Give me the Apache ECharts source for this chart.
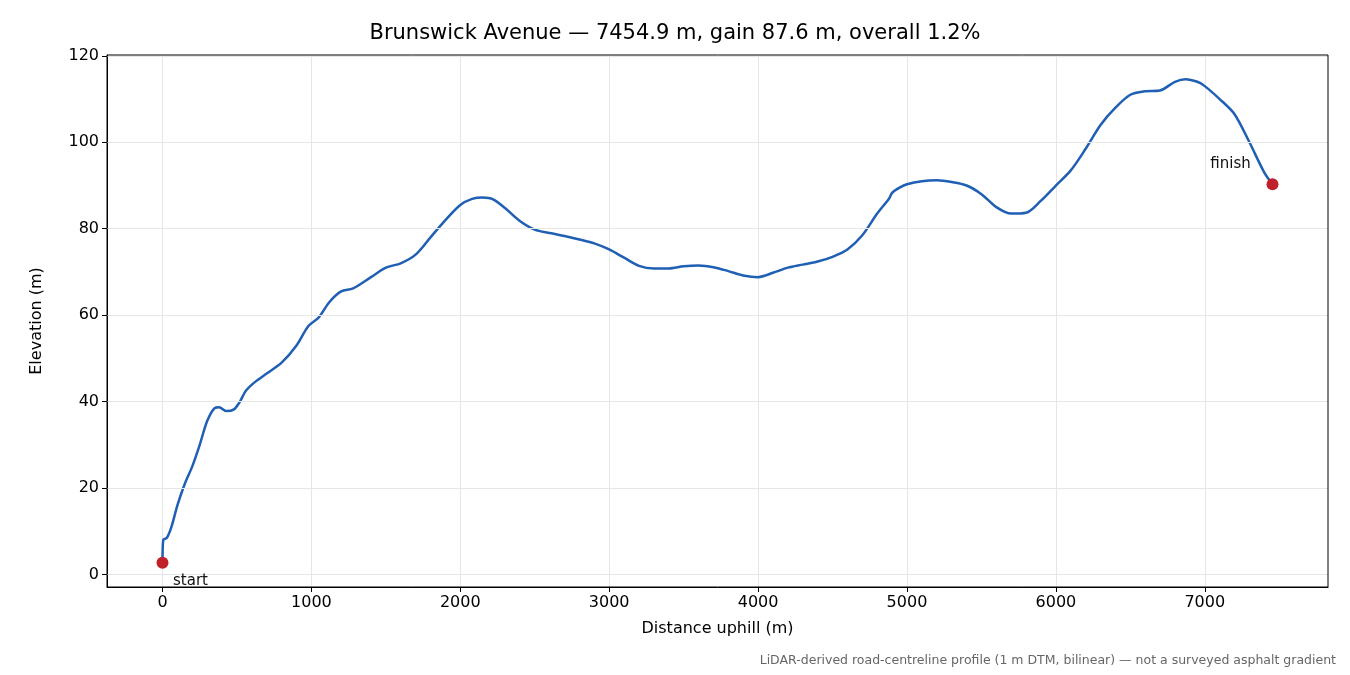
<!DOCTYPE html><html><head><meta charset="utf-8"><script src="https://cdn.jsdelivr.net/npm/echarts@6/dist/echarts.min.js"></script></head><body style="margin:0"><div id="c" style="width:1350px;height:675px"></div><script>
const dist=[0,5,30,60,100,150,200,250,300,350,380,430,480,520,560,620,700,800,900,980,1050,1120,1200,1280,1400,1500,1600,1700,1800,1900,2000,2080,2150,2220,2300,2400,2500,2600,2700,2800,2900,3000,3100,3200,3300,3400,3500,3600,3700,3800,3900,4000,4100,4200,4300,4400,4500,4600,4700,4800,4880,4900,4950,5000,5100,5200,5300,5400,5500,5600,5700,5800,5900,6000,6100,6200,6300,6400,6500,6600,6700,6800,6870,6950,7000,7100,7200,7300,7400,7454.9];
const elev=[2.7,8,8.5,11,16,21,25,30,35.5,38.5,38.7,37.8,38.2,40,42.5,44.5,46.5,49,53,57.5,59.5,63,65.5,66.2,68.8,71,72,74,78,82,85.5,86.9,87.2,86.8,84.8,81.8,79.8,79,78.3,77.5,76.6,75.2,73.3,71.4,70.8,70.8,71.3,71.5,71.1,70.2,69.2,68.8,69.8,71,71.7,72.4,73.5,75.2,78.5,83.5,87,88.3,89.5,90.3,91,91.2,90.8,90,88,85,83.5,83.7,86.5,90,93.5,98.5,104,108,111,111.8,112,114,114.6,114,113,110,106.5,100,93,90.3];
const xTicks=[0,1000,2000,3000,4000,5000,6000,7000];
const yTicks=[0,20,40,60,80,100,120];
const ends=[{d:0,e:2.7,label:'start'},{d:7454.9,e:90.3,label:'finish'}];
const ch=echarts.init(document.getElementById('c'));
const ax={color:'#000',fontSize:16,fontFamily:'DejaVu Sans'};
ch.setOption({
 animation:false,
 title:{text:'Brunswick Avenue — 7454.9 m, gain 87.6 m, overall 1.2%',left:'center',top:18,textStyle:{fontFamily:'DejaVu Sans',fontWeight:'normal',fontSize:21,color:'#000'}},
 graphic:[{type:'text',right:14,bottom:8,style:{text:'LiDAR-derived road-centreline profile (1 m DTM, bilinear) — not a surveyed asphalt gradient',fill:'#666',font:'12.5px DejaVu Sans'}}],
 grid:{left:107,right:22,top:55,bottom:88,show:true,borderColor:'#000',borderWidth:1,backgroundColor:'transparent',z:10},
 xAxis:{type:'value',min:-372.7,max:7827.6,name:'Distance uphill (m)',nameLocation:'middle',nameGap:34,nameTextStyle:ax,
  axisLine:{onZero:false,lineStyle:{color:'#000'}},
  axisLabel:Object.assign({},ax,{customValues:xTicks,formatter:v=>String(v)}),axisTick:{customValues:xTicks,length:5,lineStyle:{color:'#000'}},
  splitLine:{show:true,lineStyle:{color:'#e6e6e6'}}},
 yAxis:{type:'value',min:-2.9,max:120.2,name:'Elevation (m)',nameLocation:'middle',nameGap:62,nameTextStyle:ax,
  axisLine:{show:true,onZero:false,lineStyle:{color:'#000'}},
  axisLabel:Object.assign({},ax,{customValues:yTicks,formatter:v=>String(v)}),axisTick:{show:true,customValues:yTicks,length:5,lineStyle:{color:'#000'}},
  splitLine:{show:false}},
 series:[
  {type:'line',data:dist.map((d,i)=>[d,elev[i]]),smooth:0.3,showSymbol:false,lineStyle:{color:'#1f5fb4',width:2.5}},
  {type:'scatter',data:ends.map(p=>({value:[p.d,p.e],label:{show:true,formatter:p.label,
    position:p.label==='start'?'bottom':'top',offset:p.label==='start'?[28,0]:[-42,-2],color:'#111',fontSize:15,fontFamily:'DejaVu Sans'}})),
   symbolSize:12,itemStyle:{color:'#c0202a',opacity:1},emphasis:{disabled:true},z:5},
  {type:'line',data:[],markLine:{silent:true,symbol:'none',label:{show:false},lineStyle:{color:'#e6e6e6',type:'solid',width:1},data:yTicks.map(v=>({yAxis:v}))},z:0}
 ]
});
</script></body></html>
